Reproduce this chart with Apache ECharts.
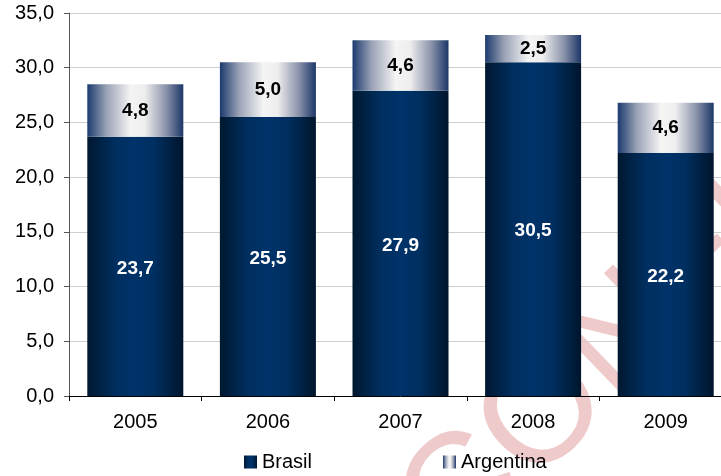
<!DOCTYPE html>
<html>
<head>
<meta charset="utf-8">
<script src="https://cdn.jsdelivr.net/npm/echarts@6/dist/echarts.min.js"></script>
<style>
  html, body { margin: 0; padding: 0; background: #ffffff; overflow: hidden; }
  /* the plot area runs a little past the right edge of the window */
  #chart { width: 740px; height: 476px; }
</style>
</head>
<body>
<div id="chart"></div>
<script>
// Categories and stacked values
const years = ['2005', '2006', '2007', '2008', '2009'];
const brasil = [23.7, 25.5, 27.9, 30.5, 22.2];
const argentina = [4.8, 5.0, 4.6, 2.5, 4.6];
const yTicks = { min: 0, max: 35, interval: 5 };

const fmt = v => Number(v).toFixed(1).replace('.', ',');
const FONT = '"Liberation Sans", Arial, sans-serif';

const brasilFill = new echarts.graphic.LinearGradient(0, 0, 1, 0, [
  { offset: 0, color: '#001830' },
  { offset: 0.3, color: '#002f60' },
  { offset: 0.5, color: '#00336a' },
  { offset: 0.7, color: '#002f60' },
  { offset: 1, color: '#00152c' }
]);
const argentinaFill = new echarts.graphic.LinearGradient(0, 0, 1, 0, [
  { offset: 0, color: '#1c3a6e' },
  { offset: 0.2, color: '#9aa2b6' },
  { offset: 0.45, color: '#f4f4f4' },
  { offset: 0.6, color: '#eeeeee' },
  { offset: 0.82, color: '#8a93aa' },
  { offset: 1, color: '#1c3668' }
]);

const chart = echarts.init(document.getElementById('chart'), null, { renderer: 'canvas' });

chart.setOption({
  animation: false,
  backgroundColor: '#ffffff',
  textStyle: { fontFamily: FONT },
  graphic: [{
    type: 'text',
    z: -10,
    silent: true,
    x: 425,
    y: 532,
    rotation: 44 * Math.PI / 180,
    style: {
      text: 'CONFIDENCIAL',
      font: '150px ' + FONT,
      fill: 'rgba(222,150,150,0.5)',
      textAlign: 'left',
      textVerticalAlign: 'middle'
    }
  }],
  grid: { left: 69, top: 13, width: 663, height: 383, containLabel: false },
  legend: {
    top: 452,
    left: 244,
    padding: 0,
    itemWidth: 13,
    itemHeight: 13,
    itemGap: 131,
    icon: 'rect',
    textStyle: { fontSize: 20, color: '#000', fontFamily: FONT },
    data: ['Brasil', 'Argentina']
  },
  xAxis: {
    type: 'category',
    data: years,
    axisLine: { lineStyle: { color: '#000', width: 1 } },
    axisTick: { show: true, alignWithLabel: false, length: 5, lineStyle: { color: '#000' } },
    axisLabel: { fontSize: 20, color: '#000', margin: 16 }
  },
  yAxis: {
    type: 'value',
    min: yTicks.min,
    max: yTicks.max,
    interval: yTicks.interval,
    axisLine: { show: true, lineStyle: { color: '#555', width: 1 } },
    axisTick: { show: true, length: 5, lineStyle: { color: '#555' } },
    axisLabel: { fontSize: 20, color: '#000', margin: 15, formatter: fmt },
    splitLine: { show: true, lineStyle: { color: '#cfcfcf', width: 1 } }
  },
  series: [
    {
      name: 'Brasil',
      type: 'bar',
      stack: 'total',
      barWidth: 96,
      data: brasil,
      itemStyle: { color: brasilFill },
      label: {
        show: true,
        position: 'inside',
        color: '#fff',
        fontSize: 19,
        fontWeight: 'bold',
        offset: [0, 2],
        formatter: p => fmt(p.value)
      }
    },
    {
      name: 'Argentina',
      type: 'bar',
      stack: 'total',
      barWidth: 96,
      data: argentina,
      itemStyle: { color: argentinaFill },
      label: {
        show: true,
        position: 'inside',
        color: '#000',
        fontSize: 19,
        fontWeight: 'bold',
        formatter: p => fmt(p.value)
      }
    }
  ]
});
</script>
</body>
</html>
